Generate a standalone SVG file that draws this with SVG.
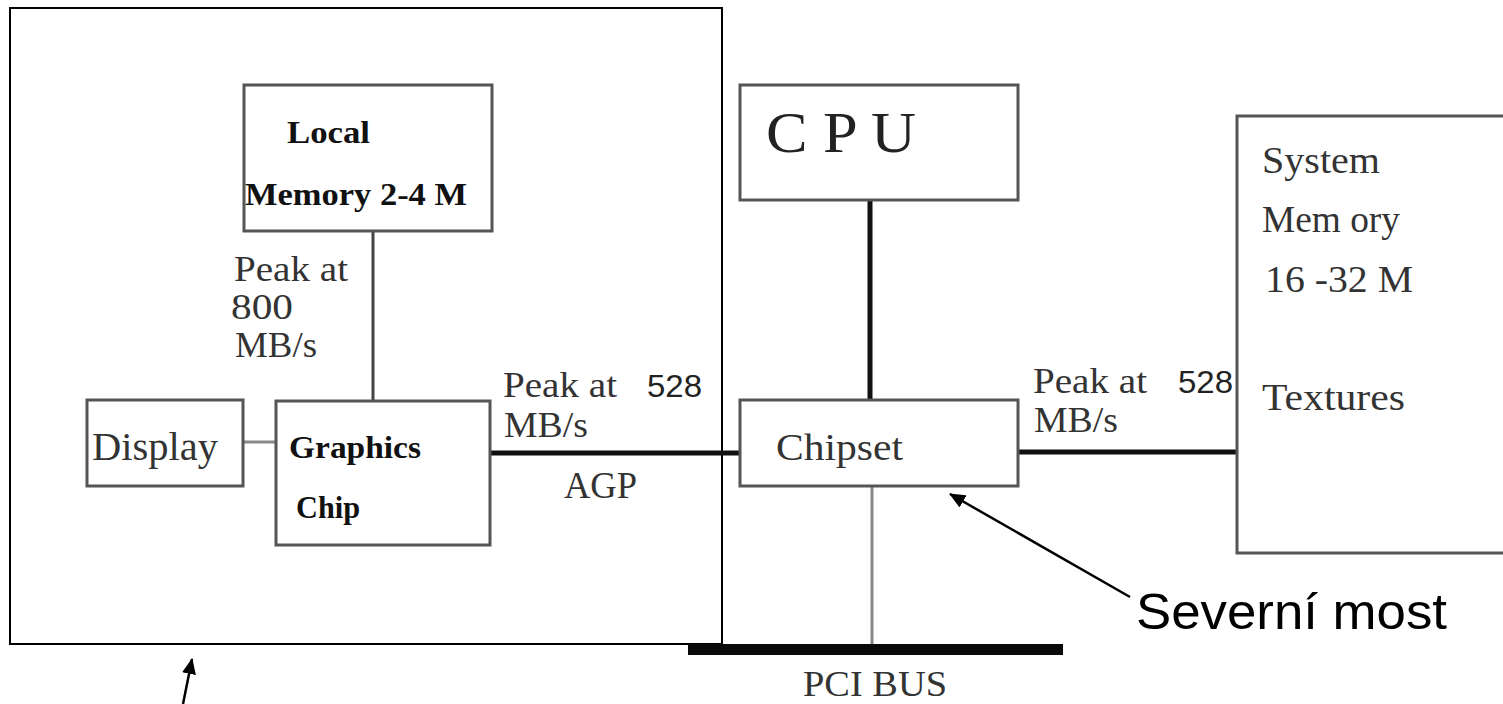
<svg xmlns="http://www.w3.org/2000/svg" width="1503" height="704" viewBox="0 0 1503 704">
<style>
.box{fill:#fff;stroke:#555;stroke-width:3}
.frame{fill:none;stroke:#000;stroke-width:2}
.serif{font-family:"Liberation Serif","Times New Roman",serif;fill:#333}
.bold{font-family:"Liberation Serif","Times New Roman",serif;font-weight:bold;fill:#111}
.sans{font-family:"Liberation Sans",Arial,sans-serif;fill:#000}
.thick{stroke:#111;stroke-width:5;fill:none}
.thin{stroke:#666;stroke-width:3;fill:none}
.arrow{stroke:#000;stroke-width:2.5;fill:none}
</style>
<defs>
<marker id="ah" viewBox="0 0 16 14" refX="15" refY="7" markerWidth="16" markerHeight="14" markerUnits="userSpaceOnUse" orient="auto">
<path d="M0,0 L16,7 L0,14 z" fill="#000"/>
</marker>
</defs>
<rect width="1503" height="704" fill="#fff"/>

<g id="graphics-card">
<rect class="frame" x="10" y="8" width="712" height="636"/>
</g>

<g id="connectors">
<line class="thin" x1="373" y1="231" x2="373" y2="401" style="stroke:#444"/>
<line class="thin" x1="243" y1="442" x2="276" y2="442" style="stroke:#888"/>
<line class="thick" x1="490" y1="453" x2="740" y2="453"/>
<line class="thick" x1="870" y1="200" x2="870" y2="400"/>
<line class="thick" x1="1018" y1="452" x2="1237" y2="452"/>
<line class="thin" x1="872" y1="486" x2="872" y2="645" style="stroke:#888"/>
<rect x="688" y="644" width="375" height="11" fill="#0a0a0a"/>
<line class="arrow" x1="1130" y1="597" x2="950" y2="494" marker-end="url(#ah)"/>
<line class="arrow" x1="183" y1="704" x2="192" y2="659" marker-end="url(#ah)"/>
</g>

<g id="local-memory">
<rect class="box" x="244" y="85" width="248" height="146"/>
<text class="bold" x="287" y="143" font-size="32" textLength="83" lengthAdjust="spacingAndGlyphs">Local</text>
<text class="bold" x="245" y="205" font-size="32" textLength="222" lengthAdjust="spacingAndGlyphs">Memory 2-4 M</text>
</g>

<g id="label-800">
<text class="serif" x="234" y="281" font-size="36" textLength="114" lengthAdjust="spacingAndGlyphs">Peak at</text>
<text class="serif" x="231" y="319" font-size="36" textLength="62" lengthAdjust="spacingAndGlyphs">800</text>
<text class="serif" x="235" y="357" font-size="36" textLength="82" lengthAdjust="spacingAndGlyphs">MB/s</text>
</g>

<g id="display">
<rect class="box" x="87" y="400" width="156" height="86"/>
<text class="serif" x="92" y="460" font-size="39" textLength="126" lengthAdjust="spacingAndGlyphs">Display</text>
</g>

<g id="graphics-chip">
<rect class="box" x="276" y="401" width="214" height="144"/>
<text class="bold" x="289" y="458" font-size="31" textLength="132" lengthAdjust="spacingAndGlyphs">Graphics</text>
<text class="bold" x="296" y="518" font-size="31" textLength="64" lengthAdjust="spacingAndGlyphs">Chip</text>
</g>

<g id="label-agp">
<text class="serif" x="503" y="397" font-size="36" textLength="114" lengthAdjust="spacingAndGlyphs">Peak at</text>
<text class="sans" x="647" y="397" font-size="32" style="fill:#222" textLength="55" lengthAdjust="spacingAndGlyphs">528</text>
<text class="serif" x="504" y="437" font-size="36" textLength="84" lengthAdjust="spacingAndGlyphs">MB/s</text>
<text class="serif" x="564" y="498" font-size="37" textLength="73" lengthAdjust="spacingAndGlyphs">AGP</text>
</g>

<g id="cpu">
<rect class="box" x="740" y="85" width="278" height="115"/>
<text class="serif" x="766" y="152" font-size="58" textLength="150" lengthAdjust="spacingAndGlyphs" style="fill:#222">C P U</text>
</g>

<g id="chipset">
<rect class="box" x="740" y="400" width="278" height="86"/>
<text class="serif" x="776" y="460" font-size="38" textLength="127" lengthAdjust="spacingAndGlyphs">Chipset</text>
</g>

<g id="label-sysmem">
<text class="serif" x="1033" y="393" font-size="36" textLength="114" lengthAdjust="spacingAndGlyphs">Peak at</text>
<text class="sans" x="1178" y="393" font-size="32" style="fill:#222" textLength="55" lengthAdjust="spacingAndGlyphs">528</text>
<text class="serif" x="1034" y="432" font-size="36" textLength="84" lengthAdjust="spacingAndGlyphs">MB/s</text>
</g>

<g id="system-memory">
<rect class="box" x="1237" y="116" width="280" height="437"/>
<text class="serif" x="1262" y="173" font-size="37" textLength="118" lengthAdjust="spacingAndGlyphs">System</text>
<text class="serif" x="1262" y="232" font-size="37" textLength="138" lengthAdjust="spacingAndGlyphs">Mem ory</text>
<text class="serif" x="1265" y="292" font-size="37" textLength="148" lengthAdjust="spacingAndGlyphs">16 -32 M</text>
<text class="serif" x="1262" y="410" font-size="37" textLength="143" lengthAdjust="spacingAndGlyphs">Textures</text>
</g>

<g id="pci-bus">
<text class="serif" x="803" y="696" font-size="36" textLength="144" lengthAdjust="spacingAndGlyphs">PCI BUS</text>
</g>

<g id="severni-most">
<text class="sans" x="1136" y="629" font-size="50" textLength="311" lengthAdjust="spacingAndGlyphs">Severní most</text>
</g>
</svg>
